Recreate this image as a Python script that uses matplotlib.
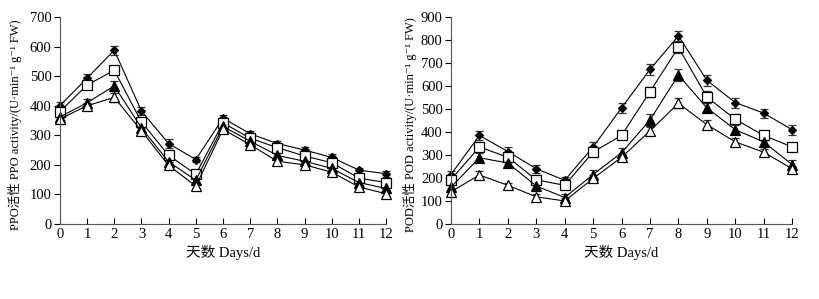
# PPO / POD activity over storage days
import numpy as np
import matplotlib.pyplot as plt

plt.rcParams['font.family'] = ['Liberation Serif', 'Noto Sans CJK SC', 'DejaVu Serif']

days = np.arange(13)

# PPO activity (left panel)
ppo_diamond = [400, 493, 588, 382, 272, 218, 358, 305, 272, 250, 225, 182, 170]
ppo_square = [380, 470, 520, 345, 232, 168, 342, 290, 258, 230, 207, 155, 140]
ppo_tri = [362, 410, 467, 325, 210, 148, 330, 280, 232, 212, 188, 140, 120]
ppo_otri = [355, 400, 428, 315, 198, 128, 320, 268, 212, 200, 175, 125, 102]
ppo_err_diamond = [12, 14, 15, 15, 14, 10, 12, 10, 10, 12, 10, 8, 10]
ppo_err_square = [12, 12, 14, 14, 12, 10, 10, 10, 10, 10, 10, 8, 8]
ppo_err_tri = [10, 14, 16, 12, 10, 10, 10, 10, 10, 10, 8, 8, 8]
ppo_err_otri = [10, 10, 14, 10, 12, 8, 8, 8, 8, 8, 8, 8, 6]

# POD activity (right panel)
pod_diamond = [215, 385, 315, 240, 190, 335, 505, 672, 818, 625, 528, 482, 410]
pod_square = [193, 335, 290, 192, 168, 313, 385, 575, 768, 552, 455, 385, 335]
pod_tri = [160, 288, 265, 165, 115, 215, 310, 452, 648, 505, 410, 357, 258]
pod_otri = [140, 213, 168, 118, 100, 198, 290, 405, 525, 432, 357, 312, 240]
pod_err_diamond = [15, 20, 18, 18, 15, 22, 22, 25, 22, 25, 22, 20, 22]
pod_err_square = [15, 22, 15, 15, 15, 20, 15, 22, 25, 25, 22, 20, 15]
pod_err_tri = [12, 20, 15, 15, 15, 20, 20, 25, 25, 20, 20, 18, 18]
pod_err_otri = [10, 18, 12, 12, 12, 15, 15, 15, 22, 20, 15, 15, 12]

styles = [('D', 'black', 4.5), ('s', 'white', 6.5), ('^', 'black', 6.5), ('^', 'white', 6.5)]

fig = plt.figure(figsize=(8.2, 2.99), dpi=100)
ax1 = fig.add_axes([0.073, 0.251, 0.398, 0.692])
ax2 = fig.add_axes([0.55, 0.251, 0.416, 0.692])


def draw(ax, series, errs, ymax, ylabel):
    for (m, fc, ms), vals, err in zip(styles, series, errs):
        lines = ax.errorbar(days, vals, yerr=err, color='black', lw=0.8, marker=m,
                            ms=ms, mfc=fc, mec='black', mew=0.9, ecolor='#333333',
                            elinewidth=0.9, capsize=3, capthick=0.9)
        for art in lines.get_children():
            art.set_clip_on(False)
    ax.set_xlim(0, 12)
    ax.set_ylim(0, ymax)
    ax.set_xticks(days)
    ax.set_yticks(np.arange(0, ymax + 1, 100))
    ax.spines['top'].set_visible(False)
    ax.spines['right'].set_visible(False)
    ax.spines['left'].set_color('#555555')
    ax.spines['bottom'].set_color('#555555')
    ax.tick_params(axis='x', direction='in', length=4, labelsize=10.5, pad=3)
    ax.tick_params(axis='y', direction='out', length=4, labelsize=10.5, pad=2)
    ax.set_xlabel('天数 Days/d', fontsize=10.5, labelpad=3)
    ax.set_ylabel(ylabel, fontsize=9, labelpad=4)
    ax.yaxis.set_label_coords(-0.115 if ymax == 700 else -0.1, 0.48)


draw(ax1, [ppo_diamond, ppo_square, ppo_tri, ppo_otri],
     [ppo_err_diamond, ppo_err_square, ppo_err_tri, ppo_err_otri], 700,
     'PPO活性 PPO activity/(U·min⁻¹ g⁻¹ FW)')
draw(ax2, [pod_diamond, pod_square, pod_tri, pod_otri],
     [pod_err_diamond, pod_err_square, pod_err_tri, pod_err_otri], 900,
     'POD活性 POD activity/(U·min⁻¹ g⁻¹ FW)')

fig.savefig('out.png', dpi=100)
